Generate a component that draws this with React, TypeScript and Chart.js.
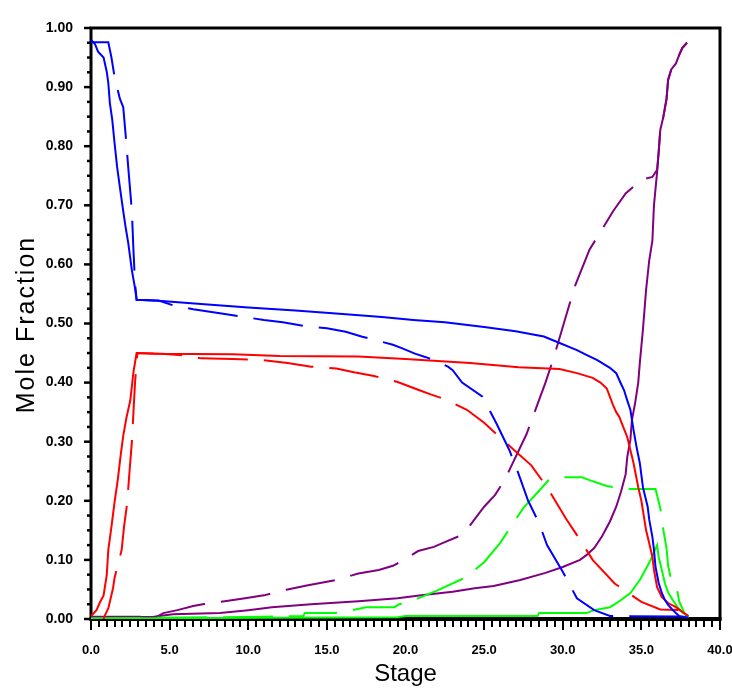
import React, { useEffect, useRef } from "react";
import { Chart, registerables } from "chart.js";

Chart.register(...registerables);

// Tick labels
const xTickLabels = ["0.0", "5.0", "10.0", "15.0", "20.0", "25.0", "30.0", "35.0", "40.0"];
const yTickLabels = ["0.00", "0.10", "0.20", "0.30", "0.40", "0.50", "0.60", "0.70", "0.80", "0.90", "1.00"];
const xMinorStep = 0.5;
const yMinorStep = 0.025;
const xTitle = "Stage";
const yTitle = "Mole Fraction";

// Series values: [stage, mole fraction]
const blueSolid: [number, number][] = [
  [0, 0.98], [0.25, 0.973], [0.45, 0.96], [0.8, 0.95], [1.0, 0.926], [1.1, 0.907], [1.2, 0.873],
  [1.35, 0.845], [1.5, 0.805], [1.66, 0.765], [1.84, 0.73], [2.05, 0.69], [2.2, 0.663], [2.37, 0.636],
  [2.6, 0.59], [2.8, 0.56], [2.9, 0.54], [4.5, 0.538], [7, 0.533], [10, 0.527], [13, 0.522], [16, 0.516],
  [18.5, 0.511], [20.5, 0.506], [22.5, 0.502], [25, 0.494], [27, 0.487], [28.8, 0.478], [29.8, 0.467],
  [30.9, 0.455], [31.5, 0.447], [32.2, 0.438], [33, 0.425], [33.4, 0.416], [33.6, 0.404], [33.9, 0.387],
  [34.1, 0.37], [34.3, 0.354], [34.5, 0.32], [34.7, 0.29], [34.9, 0.264], [35.1, 0.223], [35.4, 0.19],
  [35.5, 0.168], [35.7, 0.139], [35.8, 0.117], [35.9, 0.088], [36.1, 0.061], [36.3, 0.044], [36.5, 0.032],
  [36.7, 0.024], [37, 0.015], [37.4, 0.005], [38, 0.002],
];
const blueDashed: [number, number][] = [
  [0, 0.976], [1.1, 0.976], [1.3, 0.95], [1.5, 0.917], [1.84, 0.88], [2.05, 0.866], [2.2, 0.82],
  [2.4, 0.754], [2.6, 0.69], [2.7, 0.624], [2.8, 0.568], [2.9, 0.54], [4.3, 0.539], [5.2, 0.531],
  [6.5, 0.524], [8.3, 0.517], [9.5, 0.512], [11, 0.506], [12.2, 0.502], [13.5, 0.496], [15, 0.492],
  [16.2, 0.486], [17.2, 0.478], [18.5, 0.469], [19.2, 0.464], [19.8, 0.458], [20.6, 0.449], [21.3, 0.443],
  [21.8, 0.438], [22.3, 0.432], [22.7, 0.427], [23, 0.421], [23.6, 0.4], [24.9, 0.376], [25.8, 0.33],
  [26.6, 0.286], [27.1, 0.252], [27.8, 0.2], [28.5, 0.162], [29, 0.125], [30, 0.08], [30.9, 0.035],
  [32, 0.015], [33, 0.005], [38, 0.004],
];
const redSolid: [number, number][] = [
  [0, 0.005], [0.35, 0.015], [0.55, 0.027], [0.8, 0.04], [1.0, 0.074], [1.1, 0.117], [1.3, 0.156],
  [1.5, 0.198], [1.7, 0.235], [1.9, 0.28], [2.05, 0.31], [2.25, 0.34], [2.5, 0.37], [2.7, 0.418],
  [2.9, 0.45], [4, 0.449], [9, 0.448], [12, 0.445], [17, 0.444], [20, 0.44], [24.1, 0.433], [27.2, 0.426],
  [29.8, 0.423], [30.9, 0.416], [31.9, 0.408], [32.4, 0.4], [32.8, 0.39], [33, 0.376], [33.2, 0.362],
  [33.4, 0.35], [33.6, 0.342], [33.8, 0.328], [34.1, 0.308], [34.3, 0.286], [34.5, 0.264], [34.8, 0.223],
  [35, 0.2], [35.3, 0.15], [35.5, 0.128], [35.7, 0.105], [35.8, 0.083], [36, 0.054], [36.3, 0.037],
  [36.7, 0.027], [37.2, 0.02], [37.6, 0.012], [38, 0.005],
];
const redDashed: [number, number][] = [
  [0.8, 0], [0.9, 0.007], [1.1, 0.018], [1.4, 0.052], [1.5, 0.07], [1.95, 0.117], [2.1, 0.156],
  [2.3, 0.196], [2.45, 0.25], [2.6, 0.3], [2.7, 0.35], [2.8, 0.4], [2.95, 0.45], [4.5, 0.449],
  [6, 0.446], [7, 0.441], [9, 0.44], [11, 0.438], [12.5, 0.433], [14, 0.427], [15.6, 0.424],
  [16.8, 0.417], [18, 0.411], [18.8, 0.406], [19.5, 0.401], [20.8, 0.388], [21.6, 0.38], [22.5, 0.372],
  [23.9, 0.354], [25, 0.332], [26.3, 0.3], [28, 0.26], [29, 0.223], [30.2, 0.17], [31.1, 0.134],
  [31.9, 0.1], [33.3, 0.06], [35, 0.029], [36.2, 0.016], [37.5, 0.015], [38, 0.002],
];
const purpleSolid: [number, number][] = [
  [0, 0.003], [4, 0.004], [5.2, 0.008], [8.2, 0.01], [10, 0.015], [11.5, 0.02], [14, 0.025], [17, 0.03],
  [19.5, 0.035], [21, 0.04], [23, 0.046], [24.4, 0.052], [25.6, 0.056], [27.3, 0.066], [28.9, 0.078],
  [30, 0.088], [31.1, 0.1], [31.5, 0.108], [32, 0.12], [32.5, 0.14], [33, 0.165], [33.4, 0.19],
  [33.7, 0.215], [34, 0.245], [34.1, 0.274], [34.3, 0.303], [34.4, 0.337], [34.6, 0.365], [34.8, 0.4],
  [34.9, 0.433], [35.1, 0.49], [35.3, 0.557], [35.5, 0.607], [35.7, 0.64], [35.8, 0.7], [36, 0.756],
  [36.1, 0.79], [36.2, 0.827], [36.4, 0.85], [36.6, 0.88], [36.7, 0.912], [36.9, 0.93], [37.2, 0.94],
  [37.4, 0.954], [37.6, 0.966], [37.9, 0.975],
];
const purpleDashed: [number, number][] = [
  [0, 0.004], [4.2, 0.004], [4.6, 0.01], [5.5, 0.015], [6.5, 0.022], [7.1, 0.025], [8.5, 0.03],
  [9.8, 0.035], [11, 0.04], [12.5, 0.05], [13.8, 0.057], [15, 0.063], [15.6, 0.066], [17, 0.077],
  [18.3, 0.083], [19.2, 0.09], [19.7, 0.097], [20.8, 0.115], [21.8, 0.122], [22.5, 0.13], [23.4, 0.14],
  [24, 0.155], [25, 0.19], [25.7, 0.21], [26.3, 0.235], [27.7, 0.313], [28.9, 0.4], [29.4, 0.44],
  [30.4, 0.53], [30.8, 0.565], [31.7, 0.625], [32.4, 0.655], [33.2, 0.69], [34, 0.72], [35, 0.743],
  [35.7, 0.748], [36, 0.76], [36.1, 0.79], [36.2, 0.827], [36.4, 0.85], [36.6, 0.88], [36.7, 0.912],
  [36.9, 0.93], [37.2, 0.94], [37.4, 0.954], [37.6, 0.966], [37.9, 0.975],
];
const greenSolid: [number, number][] = [
  [0, 0.001], [19.5, 0.003], [20, 0.005], [28.4, 0.005], [28.5, 0.01], [31.5, 0.01], [32, 0.015],
  [33, 0.02], [33.6, 0.03], [34.3, 0.044], [34.9, 0.066], [35.5, 0.095], [36, 0.125], [36.1, 0.105],
  [36.3, 0.083], [36.5, 0.06], [36.7, 0.045], [37, 0.032], [37.3, 0.02], [37.6, 0.012], [37.9, 0.005],
  [38, 0.002],
];
const greenDashed: [number, number][] = [
  [0, 0.001], [8, 0.003], [11, 0.004], [13.5, 0.005], [13.6, 0.01], [15.5, 0.01], [16.6, 0.015],
  [17.5, 0.02], [19.3, 0.02], [19.6, 0.025], [20.8, 0.035], [22, 0.048], [23.8, 0.07], [25, 0.096],
  [26, 0.128], [26.8, 0.16], [27.5, 0.188], [28.7, 0.223], [29.1, 0.235], [29.6, 0.24], [31.2, 0.24],
  [31.7, 0.235], [32.8, 0.225], [34, 0.22], [35.9, 0.22], [36.2, 0.188], [36.4, 0.15], [36.6, 0.12],
  [36.7, 0.09], [36.9, 0.066], [37.3, 0.045], [37.4, 0.03], [37.7, 0.012], [37.9, 0.003],
];

const BLUE = "#0000ff";
const RED = "#ff0000";
const PURPLE = "#800080";
const GREEN = "#00ff00";
const DASH = [50, 16];
const FONT = "'Liberation Sans', Arial, sans-serif";

const toPts = (a: [number, number][]) => a.map(([x, y]) => ({ x, y }));

const framePlugin = {
  id: "frameTicks",
  beforeDatasetsDraw(chart: any) {
    const { ctx, chartArea, scales } = chart;
    const { left, right, top, bottom } = chartArea;
    const xs = scales.x;
    const ys = scales.y;
    ctx.save();
    ctx.strokeStyle = "#000";
    ctx.lineWidth = 2;
    const xMax = parseFloat(xTickLabels[xTickLabels.length - 1]);
    const xMajor = parseFloat(xTickLabels[1]) - parseFloat(xTickLabels[0]);
    const nx = Math.round(xMax / xMinorStep);
    for (let i = 0; i <= nx; i++) {
      const v = i * xMinorStep;
      const px = Math.round(xs.getPixelForValue(v));
      const major = Math.abs(v / xMajor - Math.round(v / xMajor)) < 1e-6;
      ctx.beginPath();
      ctx.moveTo(px, bottom);
      ctx.lineTo(px, bottom + (major ? 11 : 8));
      ctx.stroke();
    }
    const yMax = parseFloat(yTickLabels[yTickLabels.length - 1]);
    const yMajor = parseFloat(yTickLabels[1]) - parseFloat(yTickLabels[0]);
    const ny = Math.round(yMax / yMinorStep);
    ctx.lineWidth = 2.5;
    for (let i = 0; i <= ny; i++) {
      const v = i * yMinorStep;
      const py = ys.getPixelForValue(v);
      const major = Math.abs(v / yMajor - Math.round(v / yMajor)) < 1e-6;
      ctx.beginPath();
      ctx.moveTo(left, py);
      ctx.lineTo(left - (major ? 7 : 4), py);
      ctx.stroke();
    }
    ctx.lineWidth = 3;
    ctx.strokeRect(left, top, right - left, bottom - top);
    ctx.lineWidth = 4;
    ctx.beginPath();
    ctx.moveTo(left - 1.5, bottom);
    ctx.lineTo(right + 1.5, bottom);
    ctx.stroke();
    ctx.restore();
  },
  afterDraw(chart: any) {
    const { ctx, chartArea } = chart;
    ctx.save();
    ctx.fillStyle = "#000";
    ctx.font = `25px ${FONT}`;
    try {
      (ctx as any).letterSpacing = "2px";
    } catch (e) {}
    ctx.textAlign = "center";
    ctx.textBaseline = "middle";
    ctx.translate(27, (chartArea.top + chartArea.bottom) / 2 + 1);
    ctx.rotate(-Math.PI / 2);
    ctx.fillText(yTitle, 0, 0);
    ctx.restore();
  },
};

export default function App() {
  const ref = useRef<HTMLCanvasElement | null>(null);
  useEffect(() => {
    document.body.style.margin = "0";
    const canvas = ref.current;
    if (!canvas) return;
    const mk = (label: string, data: [number, number][], color: string, dashed: boolean) => ({
      label,
      data: toPts(data),
      borderColor: color,
      backgroundColor: color,
      borderWidth: 2,
      borderDash: dashed ? DASH : [],
      pointRadius: 0,
      fill: false,
      tension: 0,
    });
    const chart = new Chart(canvas, {
      type: "line",
      data: {
        datasets: [
          mk("Blue solid", blueSolid, BLUE, false),
          mk("Blue dashed", blueDashed, BLUE, true),
          mk("Red solid", redSolid, RED, false),
          mk("Red dashed", redDashed, RED, true),
          mk("Green solid", greenSolid, GREEN, false),
          mk("Green dashed", greenDashed, GREEN, true),
          mk("Purple solid", purpleSolid, PURPLE, false),
          mk("Purple dashed", purpleDashed, PURPLE, true),
        ],
      },
      options: {
        responsive: false,
        maintainAspectRatio: false,
        animation: false,
        layout: { padding: { top: 28, right: 12, left: 0, bottom: 0 } },
        plugins: { legend: { display: false }, tooltip: { enabled: false }, title: { display: false } },
        scales: {
          x: {
            type: "linear",
            min: 0,
            max: 40,
            grid: { display: false },
            border: { display: false },
            afterBuildTicks: (scale: any) => {
              scale.ticks = xTickLabels.map((l) => ({ value: parseFloat(l) }));
            },
            afterFit: (scale: any) => {
              scale.height = 72;
              scale.paddingLeft = 0;
              scale.paddingRight = 0;
            },
            ticks: {
              autoSkip: false,
              maxRotation: 0,
              padding: 16,
              color: "#000",
              font: { family: FONT, size: 13, weight: "bold" },
              callback: (v: any) => xTickLabels.find((l) => parseFloat(l) === v) ?? "",
            },
            title: {
              display: true,
              text: xTitle,
              color: "#000",
              font: { family: FONT, size: 24 },
              padding: { top: 0, bottom: 2 },
            },
          },
          y: {
            type: "linear",
            min: 0,
            max: 1,
            grid: { display: false },
            border: { display: false },
            afterBuildTicks: (scale: any) => {
              scale.ticks = yTickLabels.map((l) => ({ value: parseFloat(l) }));
            },
            afterFit: (scale: any) => {
              scale.width = 91;
              scale.paddingTop = 0;
              scale.paddingBottom = 0;
            },
            ticks: {
              autoSkip: false,
              padding: 10,
              color: "#000",
              font: { family: FONT, size: 14, weight: "bold" },
              callback: (v: any) => yTickLabels.find((l) => Math.abs(parseFloat(l) - v) < 1e-9) ?? "",
            },
            title: { display: false },
          },
        },
      },
      plugins: [framePlugin],
    });
    return () => chart.destroy();
  }, []);
  return <canvas ref={ref} width={732} height={691} style={{ display: "block" }} />;
}
